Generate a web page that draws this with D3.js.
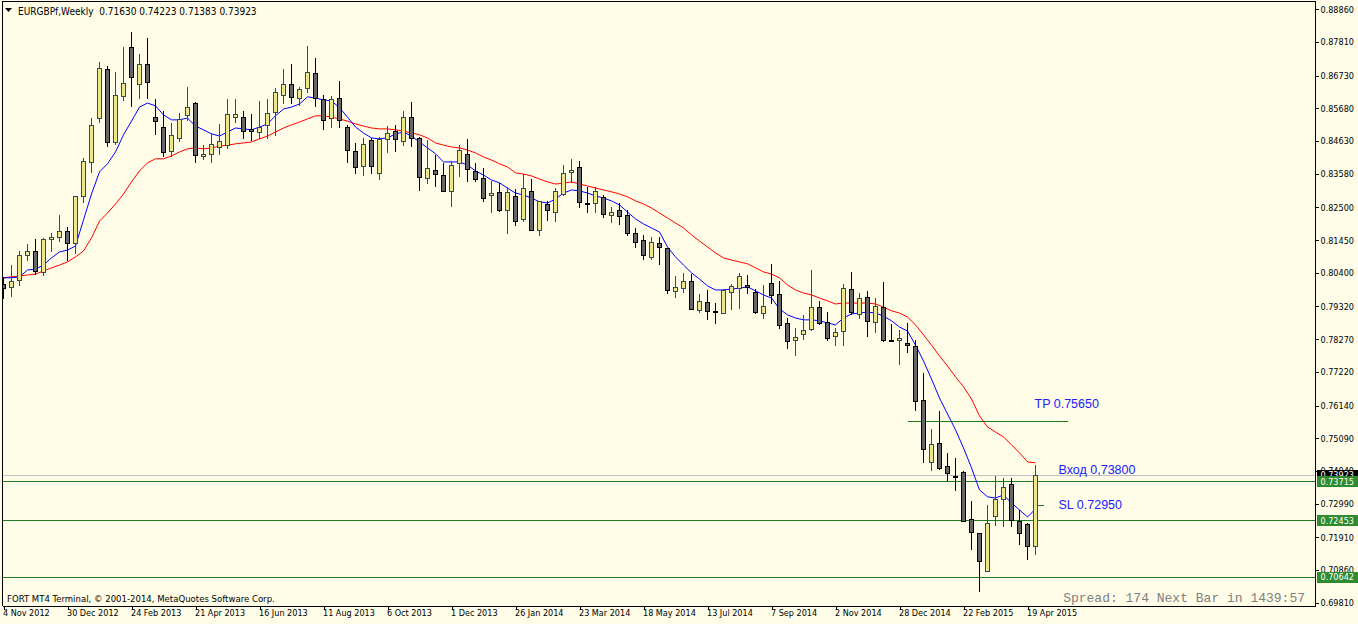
<!DOCTYPE html>
<html>
<head>
<meta charset="utf-8">
<script src="https://cdn.jsdelivr.net/npm/d3@7"></script>
<style>
body { margin: 0; background: #fffde8; }
svg { display: block; }
text { font-family: "DejaVu Sans Condensed", "DejaVu Sans", sans-serif; font-size: 9px; }
</style>
</head>
<body>
<svg></svg>
<script>
var firstWeek = "2012-11-04";

var open = [
  .8004,.7995,.8017,.8097,.8110,.8043,.8149,.8155,.8174,.8136,
  .8287,.8396,.8537,.8695,.8460,.8608,.8765,.8646,.8711,.8540,
  .8508,.8431,.8473,.8547,.8585,.8415,.8422,.8444,.8450,.8540,
  .8540,.8502,.8492,.8515,.8556,.8611,.8646,.8601,.8633,.8682,
  .8598,.8537,.8601,.8508,.8431,.8383,.8467,.8361,.8470,.8495,
  .8463,.8540,.8473,.8344,.8370,.8354,.8303,.8393,.8422,.8367,
  .8344,.8290,.8300,.8242,.8287,.8213,.8303,.8178,.8261,.8235,
  .8293,.8364,.8380,.8264,.8264,.8284,.8226,.8242,.8226,.8168,
  .8146,.8091,.8136,.8120,.7982,.7991,.8014,.7921,.7946,.7918,
  .7911,.7979,.7991,.8001,.7979,.7911,.8007,.7972,.7879,.7825,
  .7844,.7860,.7931,.7882,.7838,.7854,.7988,.7908,.7963,.7882,
  .7931,.7825,.7825,.7815,.7805,.7632,.7433,.7494,.7420,.7388,
  .7401,.7250,.7205,.7083,.7260,.7314,.7362,.7244,.7234,.71630
];
var high = [
  .8027,.8065,.8110,.8133,.8149,.8152,.8168,.8226,.8187,.8287,
  .8409,.8537,.8717,.8704,.8685,.8765,.8813,.8743,.8794,.8598,
  .8560,.8521,.8553,.8637,.8588,.8450,.8489,.8518,.8598,.8598,
  .8560,.8550,.8592,.8598,.8634,.8695,.8711,.8637,.8768,.8730,
  .8611,.8608,.8656,.8515,.8457,.8473,.8473,.8476,.8512,.8515,
  .8560,.8588,.8476,.8467,.8418,.8393,.8399,.8450,.8470,.8393,
  .8377,.8335,.8329,.8316,.8309,.8357,.8341,.8271,.8271,.8312,
  .8386,.8406,.8399,.8316,.8316,.8290,.8252,.8264,.8242,.8184,
  .8162,.8155,.8155,.8120,.8030,.8040,.8036,.7972,.7985,.7943,
  .7988,.8004,.8040,.8033,.7988,.8001,.8069,.8014,.7895,.7863,
  .7905,.8049,.7950,.7914,.7863,.8004,.8043,.7975,.7982,.7959,
  .8011,.7876,.7857,.7879,.7825,.7719,.7539,.7597,.7462,.7446,
  .7403,.7307,.7205,.7295,.7388,.7382,.7382,.7279,.7237,.74223
];
var low = [
  .7959,.7966,.8001,.8081,.8036,.8033,.8110,.8142,.8081,.8104,
  .8268,.8364,.8524,.8447,.8454,.8595,.8576,.8601,.8601,.8486,
  .8415,.8415,.8463,.8531,.8396,.8406,.8396,.8422,.8441,.8524,
  .8473,.8467,.8473,.8473,.8483,.8585,.8585,.8579,.8621,.8576,
  .8502,.8508,.8508,.8396,.8361,.8354,.8361,.8341,.8428,.8431,
  .8450,.8447,.8306,.8329,.8319,.8303,.8255,.8351,.8335,.8335,
  .8271,.8235,.8239,.8168,.8194,.8206,.8178,.8162,.8210,.8206,
  .8290,.8332,.8252,.8235,.8235,.8219,.8203,.8197,.8162,.8123,
  .8085,.8085,.8069,.7975,.7963,.7979,.7924,.7914,.7892,.7879,
  .7911,.7924,.7927,.7975,.7911,.7895,.7943,.7863,.7799,.7776,
  .7828,.7857,.7876,.7825,.7809,.7809,.7908,.7895,.7838,.7850,
  .7821,.7821,.7748,.7786,.7600,.7433,.7407,.7410,.7375,.7343,
  .7244,.7154,.7019,.7083,.7231,.7228,.7228,.7170,.7121,.71383
];
var close = [
  .7991,.8014,.8097,.8110,.8046,.8149,.8155,.8174,.8136,.8287,
  .8399,.8515,.8698,.8460,.8611,.8650,.8669,.8711,.8653,.8527,
  .8428,.8483,.8534,.8572,.8418,.8422,.8454,.8463,.8550,.8550,
  .8495,.8495,.8508,.8553,.8621,.8646,.8605,.8630,.8685,.8601,
  .8531,.8598,.8531,.8434,.8380,.8454,.8383,.8470,.8489,.8470,
  .8540,.8473,.8348,.8377,.8357,.8303,.8386,.8434,.8373,.8341,
  .8280,.8296,.8242,.8300,.8206,.8312,.8178,.8271,.8242,.8303,
  .8361,.8370,.8268,.8261,.8303,.8229,.8235,.8223,.8168,.8139,
  .8097,.8139,.8123,.7985,.7995,.8014,.7924,.7950,.7918,.7914,
  .7985,.7998,.8030,.7995,.7914,.7934,.7969,.7873,.7821,.7835,
  .7857,.7931,.7879,.7831,.7850,.7991,.7914,.7959,.7885,.7934,
  .7825,.7822,.7831,.7808,.7629,.7475,.7491,.7414,.7398,.7385,
  .7244,.7208,.7115,.7237,.7314,.7353,.7247,.7205,.7163,.73923
];
var maBlue = [
  .8024,.8024,.8027,.8049,.8052,.8065,.8088,.8107,.8113,.8126,
  .8210,.8293,.8364,.8390,.8428,.8483,.8527,.8572,.8585,.8576,
  .8547,.8531,.8531,.8537,.8511,.8499,.8486,.8479,.8492,.8505,
  .8502,.8499,.8508,.8518,.8544,.8566,.8572,.8582,.8605,.8601,
  .8595,.8592,.8570,.8540,.8508,.8489,.8473,.8470,.8473,.8486,
  .8492,.8479,.8460,.8441,.8422,.8396,.8396,.8396,.8386,.8367,
  .8354,.8338,.8329,.8312,.8296,.8290,.8280,.8268,.8264,.8277,
  .8296,.8306,.8303,.8296,.8287,.8280,.8271,.8258,.8235,.8213,
  .8197,.8184,.8171,.8123,.8091,.8065,.8040,.8020,.7998,.7985,
  .7985,.7988,.7991,.7995,.7982,.7969,.7959,.7924,.7905,.7895,
  .7889,.7889,.7886,.7879,.7873,.7895,.7908,.7911,.7914,.7911,
  .7901,.7886,.7866,.7853,.7808,.7757,.7699,.7638,.7587,.7536,
  .7478,.7414,.7343,.7321,.7317,.7327,.7301,.7279,.7256,.7282
];
var maRed = [
  .8024,.8027,.8030,.8033,.8036,.8046,.8056,.8065,.8075,.8091,
  .8110,.8152,.8206,.8232,.8261,.8293,.8332,.8367,.8393,.8406,
  .8406,.8415,.8428,.8438,.8441,.8438,.8441,.8447,.8450,.8454,
  .8457,.8460,.8470,.8479,.8492,.8505,.8515,.8524,.8534,.8544,
  .8544,.8540,.8534,.8527,.8518,.8511,.8505,.8502,.8502,.8499,
  .8495,.8489,.8483,.8473,.8457,.8450,.8444,.8441,.8434,.8425,
  .8412,.8402,.8390,.8380,.8361,.8357,.8351,.8341,.8332,.8325,
  .8328,.8332,.8325,.8319,.8312,.8306,.8300,.8293,.8284,.8271,
  .8261,.8248,.8232,.8216,.8200,.8184,.8162,.8142,.8123,.8104,
  .8088,.8081,.8075,.8069,.8056,.8043,.8036,.8024,.8001,.7985,
  .7975,.7969,.7959,.7950,.7940,.7943,.7943,.7943,.7943,.7940,
  .7930,.7918,.7911,.7898,.7873,.7841,.7808,.7773,.7741,.7706,
  .7674,.7635,.7581,.7545,.7529,.7513,.7488,.7462,.7433,.7430
];

var dateTicks = ["4 Nov 2012", "30 Dec 2012", "24 Feb 2013", "21 Apr 2013", "16 Jun 2013",
  "11 Aug 2013", "6 Oct 2013", "1 Dec 2013", "26 Jan 2014", "23 Mar 2014", "18 May 2014",
  "13 Jul 2014", "7 Sep 2014", "2 Nov 2014", "28 Dec 2014", "22 Feb 2015", "19 Apr 2015"];
var priceTicks = [0.88860, 0.87810, 0.86730, 0.85680, 0.84630, 0.83580, 0.82500, 0.81450,
  0.80400, 0.79320, 0.78270, 0.77220, 0.76140, 0.75090, 0.74040, 0.72990, 0.71910,
  0.70860, 0.69810];

// horizontal levels drawn on the chart
var levelPrices = [0.73715, 0.72453, 0.70642];
var bidPrice = 0.73923;
var tpPrice = 0.75650;
var tpFrom = "2015-01-04", tpTo = "2015-05-24";
var slPrice = 0.72950;
var notes = [
  {text: "TP 0.75650", date: "2015-04-26", price: 0.75650, dy: -13},
  {text: "Вход 0,73800", date: "2015-05-17", price: 0.73800, dy: -4},
  {text: "SL 0.72950", date: "2015-05-17", price: 0.72950, dy: 4}
];

var W = 1358, H = 624;
var plot = {left: 2.5, right: 1315.5, top: 1.5, bottom: 606};

var parseIso = d3.timeParse("%Y-%m-%d");
var parseTick = d3.timeParse("%d %b %Y");
var start = parseIso(firstWeek);
var dates = open.map(function(d, i) { return d3.timeDay.offset(start, 7 * i); });
var n = open.length;

var svg = d3.select("svg")
    .attr("width", W)
    .attr("height", H)
    .style("background", "#fffde8");

var x = d3.scaleTime()
    .domain([dates[0], dates[n - 1]])
    .range([3.5, 1035.5]);

var y = d3.scaleLinear()
    .domain([0.69704, 0.89094])
    .range([606, 2]);

svg.append("clipPath").attr("id", "plot")
  .append("rect")
    .attr("x", plot.left).attr("y", plot.top)
    .attr("width", plot.right - plot.left).attr("height", plot.bottom - plot.top);

var g = svg.append("g").attr("clip-path", "url(#plot)");

function py(p) { return Math.round(y(p)) + 0.5; }

// level lines
g.append("line")
    .attr("x1", plot.left).attr("x2", plot.right)
    .attr("y1", py(bidPrice)).attr("y2", py(bidPrice))
    .attr("stroke", "#c0c0c0").attr("shape-rendering", "crispEdges");

g.selectAll("line.level")
  .data(levelPrices)
  .join("line")
    .attr("class", "level")
    .attr("x1", plot.left).attr("x2", plot.right)
    .attr("y1", function(d) { return py(d); })
    .attr("y2", function(d) { return py(d); })
    .attr("stroke", "#1e7b1e").attr("shape-rendering", "crispEdges");

g.append("line")
    .attr("x1", x(parseIso(tpFrom))).attr("x2", x(parseIso(tpTo)))
    .attr("y1", py(tpPrice)).attr("y2", py(tpPrice))
    .attr("stroke", "#1e7b1e").attr("shape-rendering", "crispEdges");

// moving averages
var line = d3.line()
    .x(function(d, i) { return x(dates[i]); })
    .y(function(d) { return y(d); });

g.append("path")
    .datum(maRed)
    .attr("fill", "none")
    .attr("stroke", "#ff0000")
    .attr("stroke-width", 1)
    .attr("d", line);

g.append("path")
    .datum(maBlue)
    .attr("fill", "none")
    .attr("stroke", "#0000ff")
    .attr("stroke-width", 1)
    .attr("d", line);

// candles
var idx = d3.range(n);
var candles = g.selectAll("g.candle")
  .data(idx)
  .join("g")
    .attr("class", "candle")
    .attr("shape-rendering", "crispEdges");

candles.append("line")
    .attr("x1", function(i) { return x(dates[i]); })
    .attr("x2", function(i) { return x(dates[i]); })
    .attr("y1", function(i) { return Math.round(y(high[i])); })
    .attr("y2", function(i) { return Math.round(y(low[i])) + 1; })
    .attr("stroke", function(i) { return close[i] >= open[i] ? "#2f4f4f" : "#000"; });

candles.each(function(i) {
    var up = close[i] >= open[i];
    var xc = x(dates[i]);
    var yt = py(Math.max(open[i], close[i]));
    var yb = py(Math.min(open[i], close[i]));
    var sel = d3.select(this);
    if (yb - yt < 1) {
        sel.append("line")
            .attr("x1", xc - 2.5).attr("x2", xc + 2.5)
            .attr("y1", yt).attr("y2", yt)
            .attr("stroke", up ? "#2f4f4f" : "#000");
    } else {
        sel.append("rect")
            .attr("x", xc - 2).attr("width", 4)
            .attr("y", yt).attr("height", yb - yt)
            .attr("fill", up ? "#f0e68c" : "#666666")
            .attr("stroke", up ? "#2f4f4f" : "#000");
    }
});

// SL marker next to last bar
g.append("line")
    .attr("x1", x(dates[n - 1]) + 2).attr("x2", x(dates[n - 1]) + 8)
    .attr("y1", py(slPrice)).attr("y2", py(slPrice))
    .attr("stroke", "#1e7b1e").attr("shape-rendering", "crispEdges");

// notes
g.selectAll("text.note")
  .data(notes)
  .join("text")
    .attr("class", "note")
    .attr("x", function(d) { return x(parseIso(d.date)) - 1; })
    .attr("y", function(d) { return y(d.price) + d.dy; })
    .style("font-family", "'Liberation Sans', Arial, sans-serif")
    .style("font-size", "12.5px")
    .style("fill", "#2020ff")
    .text(function(d) { return d.text; });

// frame
svg.append("path")
    .attr("d", "M" + plot.left + "," + plot.bottom + "V" + plot.top + "H" + plot.right + "V" + plot.bottom)
    .attr("fill", "none")
    .attr("stroke", "#000")
    .attr("shape-rendering", "crispEdges");

// bottom axis
var xAxis = svg.append("g")
    .attr("transform", "translate(0," + plot.bottom + ")")
    .call(d3.axisBottom(x)
        .tickValues(dateTicks.map(parseTick))
        .tickFormat(d3.timeFormat("%-d %b %Y"))
        .tickSize(4)
        .tickSizeOuter(0));
xAxis.select(".domain")
    .attr("d", "M" + plot.left + ",0.5H" + plot.right)
    .attr("shape-rendering", "crispEdges");
xAxis.selectAll(".tick line").attr("shape-rendering", "crispEdges");
xAxis.selectAll(".tick text")
    .attr("text-anchor", "start")
    .attr("dx", "-1")
    .attr("y", 4)
    .attr("dy", "0.72em")
    .attr("font-family", null)
    .attr("font-size", null)
    .attr("fill", "#000");

// right axis
var yAxis = svg.append("g")
    .attr("transform", "translate(" + plot.right + ",0)")
    .call(d3.axisRight(y)
        .tickValues(priceTicks)
        .tickFormat(d3.format(".5f"))
        .tickSize(3)
        .tickSizeOuter(0));
yAxis.select(".domain").remove();
yAxis.selectAll(".tick line").attr("shape-rendering", "crispEdges");
yAxis.selectAll(".tick text")
    .attr("x", 5)
    .attr("font-family", null)
    .attr("font-size", null)
    .attr("fill", "#000");

// price boxes on the right
function priceBox(p, color) {
    svg.append("rect")
        .attr("x", plot.right + 1.5).attr("y", Math.round(y(p)) - 5)
        .attr("width", W - plot.right).attr("height", 11)
        .attr("fill", color);
    svg.append("text")
        .attr("x", plot.right + 5).attr("y", y(p) + 3.5)
        .attr("fill", "#fff")
        .text(d3.format(".5f")(p));
}
priceBox(bidPrice, "#000");
levelPrices.forEach(function(p) { priceBox(p, "#2e8b2e"); });

// header
svg.append("path")
    .attr("d", "M5,8H12L8.5,12Z")
    .attr("fill", "#000");
svg.append("text")
    .attr("x", 18).attr("y", 14.5)
    .attr("xml:space", "preserve")
    .style("font-size", "10px")
    .text("EURGBPf,Weekly  " + [open[n - 1], high[n - 1], low[n - 1], close[n - 1]].map(d3.format(".5f")).join(" "));

// footer texts
svg.append("text")
    .attr("x", 7).attr("y", 602)
    .style("font-size", "9.5px")
    .text("FORT MT4 Terminal, \u00a9 2001-2014, MetaQuotes Software Corp.");
svg.append("text")
    .attr("x", 1305).attr("y", 602)
    .attr("text-anchor", "end")
    .style("font-family", "'Liberation Mono', 'Courier New', monospace")
    .style("font-size", "13px")
    .style("fill", "#808080")
    .text("Spread: 174 Next Bar in 1439:57");
</script>
</body>
</html>
